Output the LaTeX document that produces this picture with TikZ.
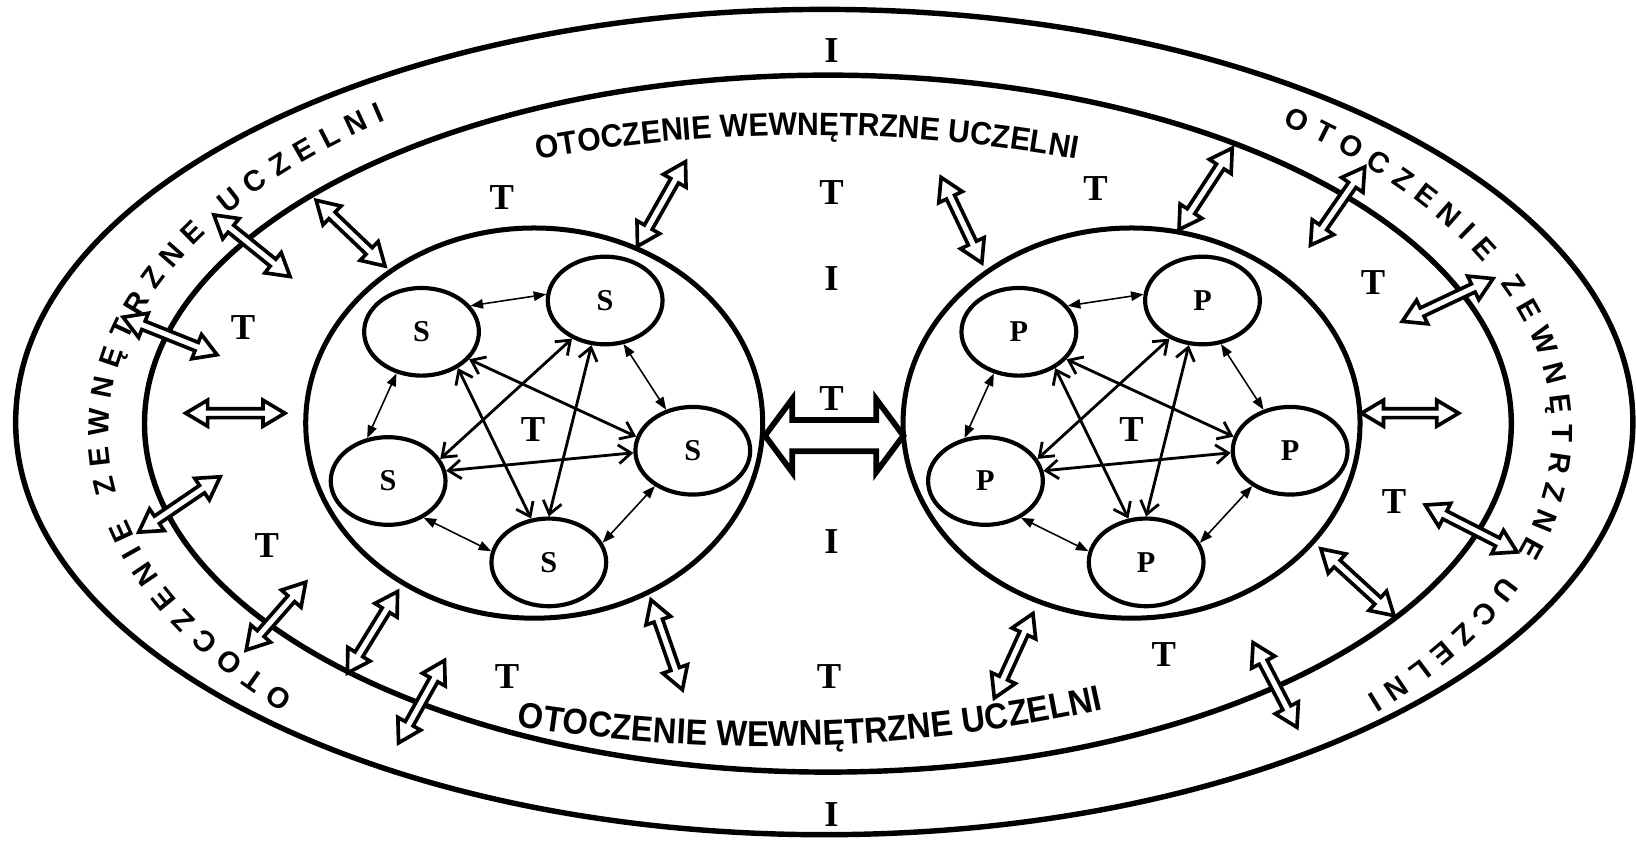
\documentclass[tikz,border=0pt]{standalone}
\usepackage{fontspec}
\setmainfont{Liberation Serif}
\newfontfamily\sansf{Liberation Sans}
\newfontfamily\sansna{Liberation Sans}[FakeStretch=0.93]
\newfontfamily\sansnb{Liberation Sans}[FakeStretch=0.91]
\usetikzlibrary{shapes.geometric,arrows.meta,calc,decorations.text}

% hollow double arrow: [style]{name}{start}{end}{head length}{head half width}{shaft half width}
\newcommand\hollowgen[7][]{%
  \coordinate (#2a) at (#3);
  \coordinate (#2b) at (#4);
  \coordinate (#2ah) at ($(#2a)!#5!(#2b)$);
  \coordinate (#2bh) at ($(#2b)!#5!(#2a)$);
  \draw[harrow,#1] (#2a) -- ($(#2ah)!#6!90:(#2b)$) -- ($(#2ah)!#7!90:(#2b)$)
    -- ($(#2bh)!#7!-90:(#2a)$) -- ($(#2bh)!#6!-90:(#2a)$) -- (#2b)
    -- ($(#2bh)!#6!90:(#2a)$) -- ($(#2bh)!#7!90:(#2a)$)
    -- ($(#2ah)!#7!-90:(#2b)$) -- ($(#2ah)!#6!-90:(#2b)$) -- cycle;}
\newcommand\harr[3]{\hollowgen{#1}{#2}{#3}{21pt}{12.5pt}{4.3pt}}

\tikzset{
  ring/.style={line width=5.2pt},
  harrow/.style={draw, line width=3.5pt, fill=white, line join=miter},
  member/.style={ellipse, draw, line width=4pt, minimum width=110pt, minimum height=84pt,
    inner sep=0pt, font=\bfseries\fontsize{29}{29}\selectfont},
  group/.style={ellipse, draw, line width=4.8pt, minimum width=438pt, minimum height=374pt},
  lab/.style={font=\bfseries\fontsize{35}{35}\selectfont, inner sep=0pt},
  link/.style={line width=1.5pt, {Triangle[length=12pt,width=9pt]}-{Triangle[length=12pt,width=9pt]}},
  cross/.style={line width=2.7pt, {Straight Barb[length=12pt,width=18pt]}-{Straight Barb[length=12pt,width=18pt]}},
}

\newcommand\grp[3]{%
\begin{scope}[xshift=#3]
  \node[group] (#1L) at (512,-405.5) {};
  \node[member] (#11) at (404,-318) {#2};
  \node[member] (#12) at (580,-288) {#2};
  \node[member] (#13) at (664,-432) {#2};
  \node[member] (#14) at (372,-461) {#2};
  \node[member] (#15) at (526,-539) {#2};
  \draw[link] (#11.28) -- (#12.174.6);
  \draw[link] (#11.239) -- (#14.116.7);
  \draw[link] (#12.293) -- (#13.123.3);
  \draw[link] (#14.314.6) -- (#15.169.4);
  \draw[link] (#13.223.5) -- (#15.20.9);
  \draw[cross] (#11.330.6) -- (#13.166.3);
  \draw[cross] (#11.315.2) -- (#15.112.3);
  \draw[cross] (#12.229.5) -- (#14.23.1);
  \draw[cross] (#12.253.8) -- (#15.90.7);
  \draw[cross] (#14.10) -- (#13.182.5);
\end{scope}}

\begin{document}
\begin{tikzpicture}[x=1pt,y=1pt]
\useasboundingbox (0,0) rectangle (1568,-806);

% rings
\draw[ring] (790,-404.5) ellipse[x radius=775, y radius=395.5];
\draw[ring] (793.5,-406) ellipse[x radius=655, y radius=334];

% curved texts
\path[decorate, decoration={text along path, text align=center,
  text={|\sansna\bfseries\fontsize{31}{31}\selectfont|OTOCZENIE WEWNĘTRZNE UCZELNI}}]
  (773.5,-1579.4) ++(105:1450) arc[start angle=105, end angle=75, radius=1450];
\path[decorate, decoration={text along path, text align=center,
  text={|\sansnb\bfseries\fontsize{34.5}{35}\selectfont|OTOCZENIE WEWNĘTRZNE UCZELNI}}]
  (734,774.5) ++(-103.35:1489.8) arc[start angle=-103.35, end angle=-73.35, radius=1489.8];
\path[decorate, decoration={text along path, text align={fit to path},
  text={|\sansf\bfseries\fontsize{28}{28}\selectfont|OTOCZENIE ZEWNĘTRZNE UCZELNI}}]
  (796,-413.5) ++(222:692 and 378) arc[start angle=222, end angle=128, x radius=692, y radius=378];
\path[decorate, decoration={text along path, text align={fit to path},
  text={|\sansf\bfseries\fontsize{28}{28}\selectfont|OTOCZENIE ZEWNĘTRZNE UCZELNI}}]
  (796,-413.5) ++(51.2:692 and 378) arc[start angle=51.2, end angle=-42, x radius=692, y radius=378];

% groups
\grp{s}{S}{0pt}
\grp{p}{P}{572.5pt}

% hollow arrows
\harr{h1}{205,-206}{278,-265}
\harr{h2}{303,-192}{369,-255}
\harr{h3}{657,-155}{611,-236}
\harr{h4}{118,-304}{208,-340}
\harr{h5}{178,-396}{273,-396}
\harr{h6}{211,-457}{133,-510}
\harr{h7}{293,-558}{236,-623}
\harr{h8}{381,-567}{333,-645}
\harr{h9}{426,-633}{382,-712}
\harr{h10}{624,-575}{654,-661}
\harr{h11}{902,-170}{941,-252}
\harr{h13}{1181,-142}{1130,-220}
\harr{h14}{1308,-160}{1256,-235}
\harr{h15}{1431,-267}{1344,-308}
\harr{h16}{1305,-396}{1398,-396}
\harr{h17}{1366,-484}{1454,-529}
\harr{h18}{1266,-526}{1336,-590}
\harr{h19}{990,-588}{953,-669}
\harr{h20}{1201,-616}{1243,-697}
\hollowgen[line width=5.5pt]{h12}{733.2,-417.5}{865.8,-417.5}{26pt}{35pt}{15pt}

% labels
\node[lab] (i1) at (797,-48) {I};
\node[lab] (t1) at (481,-189) {T};
\node[lab] (t2) at (797,-185) {T};
\node[lab] (t3) at (1050,-180.5) {T};
\node[lab] (i2) at (797,-267) {I};
\node[lab] (t4) at (233,-314) {T};
\node[lab] (t5) at (1316,-271) {T};
\node[lab] (t6) at (797,-382) {T};
\node[lab] (t7) at (511,-412) {T};
\node[lab] (t8) at (1084.5,-412) {T};
\node[lab] (t9) at (1336,-481) {T};
\node[lab] (i3) at (797,-519) {I};
\node[lab] (t10) at (255.6,-522.5) {T};
\node[lab] (t11) at (486,-648) {T};
\node[lab] (t12) at (794.5,-648) {T};
\node[lab] (t13) at (1115.4,-627.5) {T};
\node[lab] (i4) at (797,-781) {I};
\end{tikzpicture}
\end{document}
